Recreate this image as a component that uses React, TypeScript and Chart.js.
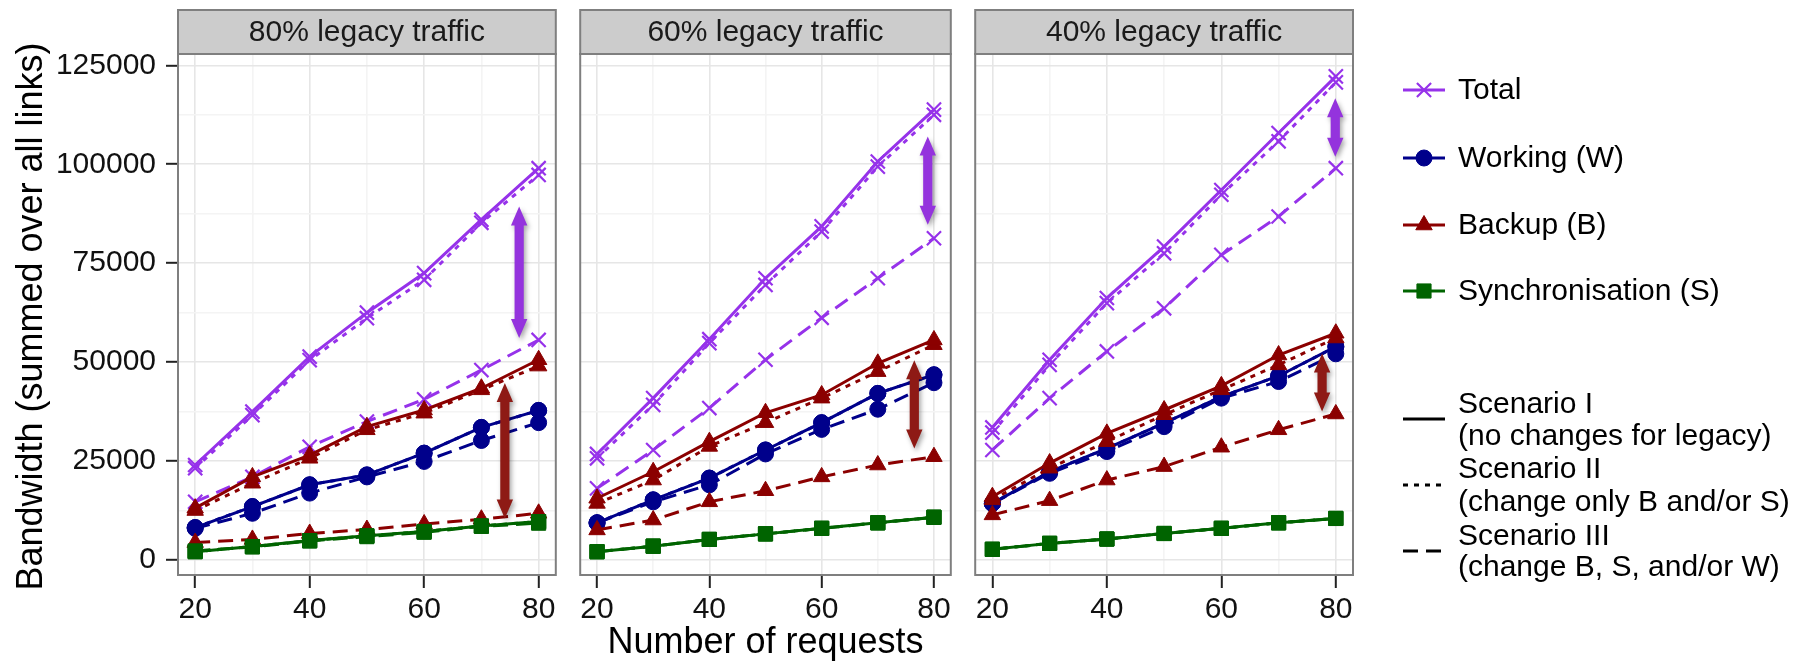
import React, { useEffect, useRef } from 'react';
import { Chart, registerables } from 'chart.js';
import { drawPoint } from 'chart.js/helpers';

Chart.register(...registerables);

const FONT = '"Liberation Sans", Arial, Helvetica, sans-serif';

// ---------- data ----------
const requests = [20, 30, 40, 50, 60, 70, 80];
const facetTitles = ['80% legacy traffic', '60% legacy traffic', '40% legacy traffic'];
const seriesNames = ['Total', 'Working (W)', 'Backup (B)', 'Synchronisation (S)'];
const scenarioNames = [
  ['Scenario I', '(no changes for legacy)'],
  ['Scenario II', '(change only B and/or S)'],
  ['Scenario III', '(change B, S, and/or W)'],
];
const xTitle = 'Number of requests';
const yTitle = 'Bandwidth (summed over all links)';
const yMajorTicks = [0, 25000, 50000, 75000, 100000, 125000];
const yMinorTicks = [12500, 37500, 62500, 87500, 112500];
const xMajorTicks = [20, 40, 60, 80];
const xMinorTicks = [30, 50, 70];

// 80% legacy traffic
const total80_I = [24000, 37500, 51400, 62500, 72500, 86000, 99000];
const total80_II = [23200, 36600, 50500, 61100, 70800, 85200, 97300];
const total80_III = [14700, 21000, 28600, 35000, 40600, 48000, 55600];
const working80_I = [8200, 13500, 19000, 21500, 27000, 33500, 37800];
const working80_II = [8200, 13500, 19000, 21500, 27000, 33500, 37800];
const working80_III = [8000, 11800, 16900, 21000, 24900, 30200, 34700];
const backup80_I = [13100, 21000, 26500, 33700, 37900, 43400, 50600];
const backup80_II = [12500, 19400, 25700, 32900, 37100, 43000, 49000];
const backup80_III = [4400, 5200, 6700, 7700, 9100, 10300, 11800];
const sync80_I = [2100, 3400, 4900, 6100, 7200, 8600, 9700];
const sync80_II = [2100, 3400, 4900, 6100, 7200, 8600, 9700];
const sync80_III = [2300, 3300, 4800, 5900, 7000, 8500, 9300];
const purpleArrow80 = [76.6, 89300, 56100];
const redArrow80 = [74.1, 44700, 10500];

// 60% legacy traffic
const total60_I = [26800, 40900, 55800, 71200, 84300, 100700, 113800];
const total60_II = [25700, 39200, 54800, 69500, 83000, 99400, 112500];
const total60_III = [18100, 27800, 38400, 50600, 61200, 71200, 81300];
const working60_I = [9400, 15200, 20700, 27800, 34700, 42100, 46800];
const working60_II = [9400, 15200, 20700, 27800, 34700, 42100, 46800];
const working60_III = [9400, 14700, 19000, 26800, 33000, 38100, 44800];
const backup60_I = [15600, 22300, 29900, 37200, 41700, 49700, 55600];
const backup60_II = [14300, 20200, 28700, 34700, 40900, 47600, 54400];
const backup60_III = [7600, 10100, 14700, 17500, 21000, 24000, 26100];
const sync60_I = [2100, 3500, 5200, 6600, 8000, 9400, 10800];
const sync60_II = [2100, 3500, 5200, 6600, 8000, 9400, 10800];
const sync60_III = [2100, 3500, 5200, 6600, 8000, 9400, 10800];
const purpleArrow60 = [78.9, 107000, 84700];
const redArrow60 = [76.5, 50500, 28200];

// 40% legacy traffic
const total40_I = [33500, 50600, 66200, 79200, 93500, 107900, 122200];
const total40_II = [32200, 49300, 64900, 77500, 92300, 105800, 120700];
const total40_III = [27800, 40900, 52700, 63600, 77100, 86800, 99000];
const working40_I = [14300, 22300, 28200, 34600, 41300, 46500, 53900];
const working40_II = [14300, 22300, 28200, 34600, 41300, 46500, 53900];
const working40_III = [14300, 21900, 27400, 33700, 40900, 45100, 52100];
const backup40_I = [16000, 24500, 32000, 37900, 44000, 51800, 57300];
const backup40_II = [15200, 23200, 29900, 36700, 43000, 49300, 56100];
const backup40_III = [11400, 15000, 20200, 23600, 28500, 32900, 36900];
const sync40_I = [2700, 4200, 5300, 6700, 8000, 9400, 10500];
const sync40_II = [2700, 4200, 5300, 6700, 8000, 9400, 10500];
const sync40_III = [2700, 4200, 5300, 6700, 8000, 9400, 10500];
const purpleArrow40 = [79.9, 116700, 101900];
const redArrow40 = [77.6, 52200, 37500];

const panels = [
  {
    title: facetTitles[0],
    series: [
      [total80_I, total80_II, total80_III],
      [working80_I, working80_II, working80_III],
      [backup80_I, backup80_II, backup80_III],
      [sync80_I, sync80_II, sync80_III],
    ],
    arrows: [purpleArrow80, redArrow80],
  },
  {
    title: facetTitles[1],
    series: [
      [total60_I, total60_II, total60_III],
      [working60_I, working60_II, working60_III],
      [backup60_I, backup60_II, backup60_III],
      [sync60_I, sync60_II, sync60_III],
    ],
    arrows: [purpleArrow60, redArrow60],
  },
  {
    title: facetTitles[2],
    series: [
      [total40_I, total40_II, total40_III],
      [working40_I, working40_II, working40_III],
      [backup40_I, backup40_II, backup40_III],
      [sync40_I, sync40_II, sync40_III],
    ],
    arrows: [purpleArrow40, redArrow40],
  },
];

// ---------- styles ----------
const SERIES_STYLE = [
  { color: '#9632EA', pointStyle: 'crossRot', radius: 10, borderWidth: 2.2 },
  { color: '#00008B', pointStyle: 'circle', radius: 8, borderWidth: 1 },
  { color: '#8B0000', pointStyle: 'triangle', radius: 9.5, borderWidth: 1 },
  { color: '#006400', pointStyle: 'rect', radius: 10, borderWidth: 1 },
];
const DASHES = [[], [5, 6], [15, 8]];
const ARROW_COLORS = ['#9433DD', '#8E1A15'];
const MAJOR_GRID = '#E6E6E6';
const MINOR_GRID = '#F4F4F4';
const BORDER = '#7F7F7F';

const GEOM = [
  { left: 0, width: 568, padL: 0, padR: 6, yW: 178 },
  { left: 568, width: 395, padL: 6, padR: 6, yW: 0 },
  { left: 963, width: 847, padL: 6, padR: 457, yW: 0 },
];
const TOP = 54;
const XAXIS_H = 88;

function drawArrow(ctx: CanvasRenderingContext2D, x: number, yTop: number, yBot: number, color: string) {
  const shaft = 4.6, head = 8.2, headLen = 19;
  ctx.save();
  ctx.shadowColor = 'rgba(0,0,0,0.35)';
  ctx.shadowBlur = 5;
  ctx.shadowOffsetX = 2;
  ctx.shadowOffsetY = 3;
  ctx.fillStyle = color;
  ctx.beginPath();
  ctx.moveTo(x, yTop);
  ctx.lineTo(x + head, yTop + headLen);
  ctx.lineTo(x + shaft, yTop + headLen);
  ctx.lineTo(x + shaft, yBot - headLen);
  ctx.lineTo(x + head, yBot - headLen);
  ctx.lineTo(x, yBot);
  ctx.lineTo(x - head, yBot - headLen);
  ctx.lineTo(x - shaft, yBot - headLen);
  ctx.lineTo(x - shaft, yTop + headLen);
  ctx.lineTo(x - head, yTop + headLen);
  ctx.closePath();
  ctx.fill();
  ctx.restore();
}

function drawLegend(ctx: CanvasRenderingContext2D, a: any) {
  const kx0 = a.right + 50, kx1 = a.right + 92, tx = a.right + 105;
  const seriesY = [90, 158, 225, 291];
  ctx.save();
  ctx.font = `30px ${FONT}`;
  ctx.textAlign = 'left';
  ctx.textBaseline = 'middle';
  seriesNames.forEach((name, i) => {
    const st = SERIES_STYLE[i];
    const y = seriesY[i];
    ctx.strokeStyle = st.color;
    ctx.lineWidth = 3.2;
    ctx.setLineDash([]);
    ctx.beginPath();
    ctx.moveTo(kx0, y);
    ctx.lineTo(kx1, y);
    ctx.stroke();
    ctx.fillStyle = st.color;
    ctx.lineWidth = st.borderWidth;
    drawPoint(ctx, { pointStyle: st.pointStyle, radius: st.radius, rotation: 0, borderWidth: st.borderWidth } as any, (kx0 + kx1) / 2, y);
    ctx.fillStyle = '#000';
    ctx.fillText(name, tx, y + 1);
  });
  const keyY = [419, 485, 551];
  const textY = [[405, 437], [470, 503], [537, 568]];
  scenarioNames.forEach((lines, i) => {
    ctx.strokeStyle = '#000';
    ctx.lineWidth = 3.2;
    ctx.setLineDash(DASHES[i]);
    ctx.beginPath();
    ctx.moveTo(kx0, keyY[i]);
    ctx.lineTo(kx1, keyY[i]);
    ctx.stroke();
    ctx.setLineDash([]);
    ctx.fillStyle = '#000';
    lines.forEach((t, j) => ctx.fillText(t, tx, textY[i][j]));
  });
  ctx.restore();
}

function decoPlugin(p: any, i: number) {
  return {
    id: 'deco' + i,
    afterDatasetsDraw(chart: any) {
      const { ctx, chartArea: a, scales } = chart;
      const xs = scales.x, ys = scales.y;
      p.arrows.forEach((arr: number[], k: number) => {
        drawArrow(ctx, xs.getPixelForValue(arr[0]), ys.getPixelForValue(arr[1]), ys.getPixelForValue(arr[2]), ARROW_COLORS[k]);
      });
      ctx.save();
      ctx.strokeStyle = BORDER;
      ctx.lineWidth = 2;
      ctx.strokeRect(a.left, a.top, a.right - a.left, a.bottom - a.top);
      // strip
      ctx.fillStyle = '#CCCCCC';
      ctx.fillRect(a.left, 10, a.right - a.left, a.top - 10);
      ctx.strokeRect(a.left, 10, a.right - a.left, a.top - 10);
      ctx.fillStyle = '#1A1A1A';
      ctx.font = `30px ${FONT}`;
      ctx.textAlign = 'center';
      ctx.textBaseline = 'middle';
      ctx.fillText(p.title, (a.left + a.right) / 2, 32.5);
      if (i === 0) {
        ctx.save();
        ctx.translate(32, (a.top + a.bottom) / 2 + 2);
        ctx.rotate(-Math.PI / 2);
        ctx.font = `36px ${FONT}`;
        ctx.fillStyle = '#000';
        ctx.textAlign = 'center';
        ctx.textBaseline = 'middle';
        ctx.fillText(yTitle, 0, 0);
        ctx.restore();
      }
      ctx.restore();
      if (i === 2) drawLegend(ctx, a);
    },
  };
}

function buildConfig(p: any, i: number): any {
  const g = GEOM[i];
  const datasets: any[] = [];
  // sync first so it is drawn on top
  [3, 2, 1, 0].forEach((s) => {
    const st = SERIES_STYLE[s];
    [0, 1, 2].forEach((k) => {
      const vals = p.series[s][k];
      datasets.push({
        label: `${seriesNames[s]} ${scenarioNames[k][0]}`,
        data: requests.map((x, j) => ({ x, y: vals[j] })),
        borderColor: st.color,
        backgroundColor: st.color,
        borderWidth: 3,
        borderDash: DASHES[k],
        borderCapStyle: 'butt',
        tension: 0,
        fill: false,
        pointStyle: st.pointStyle,
        pointRadius: st.radius,
        pointBorderWidth: st.borderWidth,
        pointBackgroundColor: st.color,
        pointBorderColor: st.color,
      });
    });
  });
  const xTicks = [...xMajorTicks, ...xMinorTicks].sort((a, b) => a - b);
  const yTicks = [...yMajorTicks, ...yMinorTicks].sort((a, b) => a - b);
  return {
    type: 'line',
    data: { datasets },
    options: {
      animation: false,
      responsive: false,
      devicePixelRatio: 1,
      events: [],
      layout: { padding: { left: g.padL, right: g.padR, top: TOP, bottom: 0 } },
      plugins: { legend: { display: false }, tooltip: { enabled: false }, title: { display: false } },
      scales: {
        x: {
          type: 'linear',
          min: 17,
          max: 83,
          afterBuildTicks: (s: any) => { s.ticks = xTicks.map((v) => ({ value: v })); },
          afterFit: (s: any) => { s.height = XAXIS_H; s.paddingLeft = 0; s.paddingRight = 0; },
          border: { display: false },
          grid: {
            color: (c: any) => (c.tick && xMajorTicks.includes(c.tick.value) ? MAJOR_GRID : MINOR_GRID),
            lineWidth: 1.6,
            drawTicks: true,
            tickLength: 13,
            tickWidth: 2,
            tickColor: (c: any) => (c.tick && xMajorTicks.includes(c.tick.value) ? '#222' : 'rgba(0,0,0,0)'),
          },
          ticks: {
            autoSkip: false,
            maxRotation: 0,
            minRotation: 0,
            padding: 7,
            color: '#111',
            font: { size: 30, lineHeight: 1, family: FONT },
            callback: (v: number) => (xMajorTicks.includes(v) ? String(v) : ''),
          },
          title: i === 1
            ? { display: true, text: xTitle, color: '#000', font: { size: 36, lineHeight: 1, family: FONT }, padding: { top: 0, bottom: 1.5 } }
            : { display: false },
        },
        y: {
          type: 'linear',
          min: -3790,
          max: 127860,
          afterBuildTicks: (s: any) => { s.ticks = yTicks.map((v) => ({ value: v })); },
          afterFit: (s: any) => { s.width = g.yW; s.paddingTop = 0; s.paddingBottom = 0; },
          border: { display: false },
          grid: {
            color: (c: any) => (c.tick && yMajorTicks.includes(c.tick.value) ? MAJOR_GRID : MINOR_GRID),
            lineWidth: 1.6,
            drawTicks: i === 0,
            tickLength: 12,
            tickWidth: 2,
            tickColor: (c: any) => (c.tick && yMajorTicks.includes(c.tick.value) ? '#222' : 'rgba(0,0,0,0)'),
          },
          ticks: {
            display: i === 0,
            autoSkip: false,
            padding: 10,
            color: '#111',
            font: { size: 30, lineHeight: 1, family: FONT },
            callback: (v: number) => (yMajorTicks.includes(v) ? String(v) : ''),
          },
        },
      },
    },
    plugins: [decoPlugin(p, i)],
  };
}

export default function App() {
  const r0 = useRef<HTMLCanvasElement>(null);
  const r1 = useRef<HTMLCanvasElement>(null);
  const r2 = useRef<HTMLCanvasElement>(null);
  const refs = [r0, r1, r2];
  useEffect(() => {
    Chart.defaults.font.family = FONT;
    const charts = panels.map((p, i) => new Chart(refs[i].current as HTMLCanvasElement, buildConfig(p, i)));
    return () => charts.forEach((c) => c.destroy());
  }, []);
  return (
    <div style={{ position: 'absolute', left: 0, top: 0, width: 1810, height: 663, background: '#fff' }}>
      {GEOM.map((g, i) => (
        <canvas
          key={i}
          ref={refs[i]}
          width={g.width}
          height={663}
          style={{ position: 'absolute', left: g.left, top: 0, width: g.width, height: 663 }}
        />
      ))}
    </div>
  );
}
